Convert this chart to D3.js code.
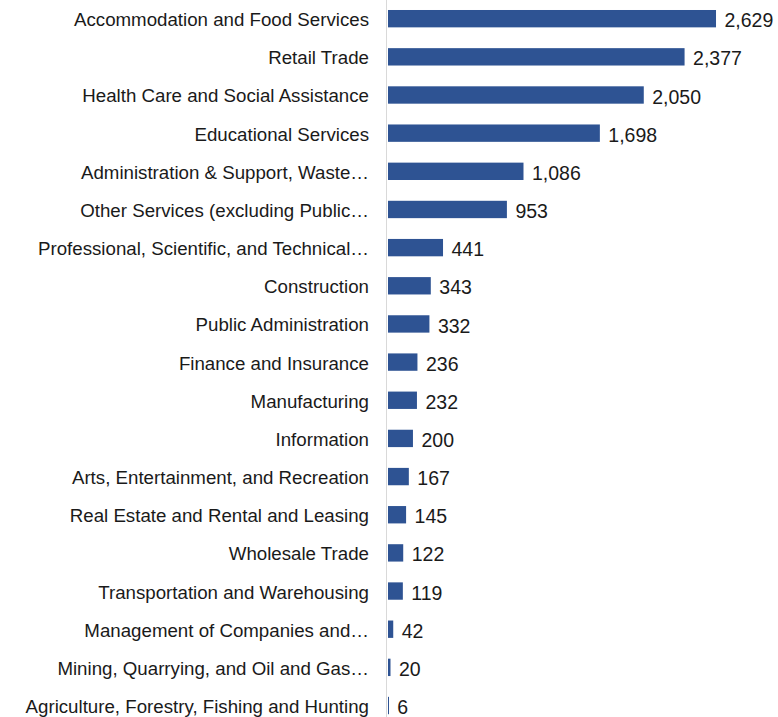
<!DOCTYPE html>
<html>
<head>
<meta charset="utf-8">
<script src="https://cdn.jsdelivr.net/npm/d3@7"></script>
<style>
  html, body { margin: 0; padding: 0; background: #fff; }
  svg { display: block; }
</style>
</head>
<body>
<svg id="chart" width="778" height="717"></svg>
<script>
// Employment by industry sector
const categories = [
  "Accommodation and Food Services",
  "Retail Trade",
  "Health Care and Social Assistance",
  "Educational Services",
  "Administration & Support, Waste\u2026",
  "Other Services (excluding Public\u2026",
  "Professional, Scientific, and Technical\u2026",
  "Construction",
  "Public Administration",
  "Finance and Insurance",
  "Manufacturing",
  "Information",
  "Arts, Entertainment, and Recreation",
  "Real Estate and Rental and Leasing",
  "Wholesale Trade",
  "Transportation and Warehousing",
  "Management of Companies and\u2026",
  "Mining, Quarrying, and Oil and Gas\u2026",
  "Agriculture, Forestry, Fishing and Hunting"
];
const values = [2629, 2377, 2050, 1698, 1086, 953, 441, 343, 332, 236, 232, 200, 167, 145, 122, 119, 42, 20, 6];
const axisMax = 3000;

const svg = d3.select("#chart");
const axisX = 386.5;

const x = d3.scaleLinear().domain([0, axisMax]).range([388, 762.3]);
const y = d3.scaleBand()
  .domain(categories)
  .range([-0.4, 724.6])
  .paddingInner(0.545)
  .paddingOuter(0.2725);

const fmt = d3.format(",");
const rows = categories.map((c, i) => ({ cat: c, val: values[i] }));

// bars
svg.append("g").selectAll("rect")
  .data(rows)
  .join("rect")
  .attr("x", x(0))
  .attr("y", d => y(d.cat))
  .attr("width", d => Math.max(1, x(d.val) - x(0)))
  .attr("height", y.bandwidth())
  .attr("fill", "#2E5393");

// vertical category axis line
svg.append("line")
  .attr("x1", axisX).attr("x2", axisX)
  .attr("y1", 0).attr("y2", 717)
  .attr("stroke", "#D9D9D9")
  .attr("stroke-width", 1);

// category labels
svg.append("g").selectAll("text")
  .data(rows)
  .join("text")
  .attr("x", 369)
  .attr("y", d => y(d.cat) + y.bandwidth() / 2)
  .attr("dy", "0.40em")
  .attr("text-anchor", "end")
  .attr("font-family", "'Liberation Sans', Arial, sans-serif")
  .attr("font-size", "18.7px")
  .attr("fill", "#1a1a1a")
  .text(d => d.cat);

// value labels
svg.append("g").selectAll("text")
  .data(rows)
  .join("text")
  .attr("x", d => x(d.val) + 8.5)
  .attr("y", d => y(d.cat) + y.bandwidth() / 2)
  .attr("dy", "0.44em")
  .attr("font-family", "'Liberation Sans', Arial, sans-serif")
  .attr("font-size", "19.5px")
  .attr("fill", "#1a1a1a")
  .text(d => fmt(d.val));
</script>
</body>
</html>
